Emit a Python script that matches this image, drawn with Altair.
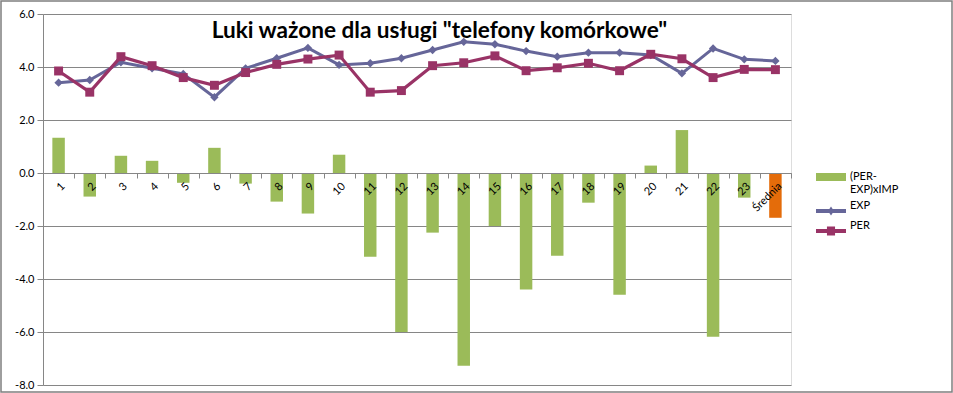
import altair as alt
import pandas as pd

# ---- data ----
categories = [str(i) for i in range(1, 24)] + ["Średnia"]
gap = [1.33, -0.89, 0.65, 0.46, -0.37, 0.95, -0.40, -1.08, -1.53, 0.69, -3.16, -6.00,
       -2.25, -7.27, -2.00, -4.40, -3.12, -1.12, -4.59, 0.28, 1.62, -6.18, -0.93, -1.69]
exp = [3.41, 3.51, 4.18, 3.95, 3.74, 2.86, 3.95, 4.33, 4.72, 4.08, 4.14, 4.33,
       4.64, 4.95, 4.86, 4.60, 4.39, 4.54, 4.54, 4.45, 3.76, 4.70, 4.29, 4.23]
per = [3.85, 3.05, 4.39, 4.05, 3.60, 3.31, 3.79, 4.10, 4.30, 4.45, 3.05, 3.11,
       4.05, 4.16, 4.42, 3.86, 3.97, 4.14, 3.86, 4.48, 4.31, 3.60, 3.91, 3.90]
y_ticks = [-8, -6, -4, -2, 0, 2, 4, 6]
series_names = ["(PER-EXP)xIMP", "EXP", "PER"]
title_text = 'Luki ważone dla usługi "telefony komórkowe"'

# ---- styles ----
GREEN, BLUE, MAGENTA, ORANGE = "#9BBB59", "#666699", "#993366", "#E46C0A"
GRAY = "#868686"
FONT = "Lato"
W, H = 748, 371
YMIN, YMAX = -8, 6

df = pd.DataFrame({"cat": categories, "gap": gap, "exp": exp, "per": per})

x_enc = alt.X(
    "cat:N", sort=categories,
    scale=alt.Scale(paddingInner=0, paddingOuter=0),
    axis=alt.Axis(
        title=None, labelAngle=-45, grid=False, zindex=1, labelOverlap=False,
        offset=-H * (0 - YMIN) / (YMAX - YMIN),
        tickBand="extent", tickSize=5, tickColor=GRAY, domainColor=GRAY,
        labelFont=FONT, labelFontSize=11, labelColor="#000000", labelPadding=2,
    ),
)
y_scale = alt.Scale(domain=[YMIN, YMAX], nice=False, zero=False)
y_axis = alt.Axis(
    title=None, values=y_ticks, grid=True, gridColor=GRAY, gridWidth=1, zindex=0,
    domainColor=GRAY, tickColor=GRAY, tickSize=6,
    labelExpr="(datum.value < 0 ? '-' : '') + format(abs(datum.value), '.1f')",
    labelFont=FONT, labelFontSize=11, labelColor="#000000", labelPadding=3,
)

bars = alt.Chart(df).mark_bar(width=alt.RelativeBandSize(0.4)).encode(
    x=x_enc,
    y=alt.Y("gap:Q", scale=y_scale, axis=y_axis),
    color=alt.condition(alt.datum.cat == "Średnia", alt.value(ORANGE), alt.value(GREEN)),
)

exp_line = alt.Chart(df).mark_line(color=BLUE, strokeWidth=3).encode(
    x=x_enc, y=alt.Y("exp:Q", scale=y_scale))
exp_pts = alt.Chart(df).mark_point(shape="diamond", filled=True, size=70, color=BLUE, opacity=1).encode(
    x=x_enc, y=alt.Y("exp:Q", scale=y_scale))
per_line = alt.Chart(df).mark_line(color=MAGENTA, strokeWidth=3.2).encode(
    x=x_enc, y=alt.Y("per:Q", scale=y_scale))
per_pts = alt.Chart(df).mark_point(shape="square", filled=True, size=80, color=MAGENTA, opacity=1).encode(
    x=x_enc, y=alt.Y("per:Q", scale=y_scale))

# legend symbols: wide bar, line+diamond, line+square (unit coords)
legend_paths = [
    "M-1,-0.27H1V0.27H-1Z M0,1.23L0.01,1.23",
    "M-1,-0.13H1V0.13H-1Z M0,-0.3L0.2,0L0,0.3L-0.2,0Z",
    "M-1,-0.13H1V0.13H-1Z M-0.27,-0.3H0.27V0.3H-0.27Z",
]
leg = dict(
    orient="none", legendX=773, legendY=148, title=None,
    symbolSize=900, symbolStrokeWidth=0, symbolOffset=0,
    labelFont=FONT, labelFontSize=11, labelColor="#000000",
    labelBaseline={"expr": "datum.value == '(PER-EXP)xIMP' ? 'middle' : 'bottom'"},
    labelOffset=4, padding=0, rowPadding=-5,
    labelExpr="datum.value == '(PER-EXP)xIMP' ? ['(PER-', 'EXP)xIMP'] : datum.label",
)
legend_layer = alt.Chart(pd.DataFrame({"series": series_names})).mark_point(
    filled=True, size=900, opacity=1
).encode(
    color=alt.Color("series:N", scale=alt.Scale(domain=series_names, range=[GREEN, BLUE, MAGENTA]),
                    legend=alt.Legend(**leg)),
    shape=alt.Shape("series:N", scale=alt.Scale(domain=series_names, range=legend_paths),
                    legend=alt.Legend(**leg)),
).transform_filter("false")

title = alt.Chart(pd.DataFrame({"t": [title_text]})).mark_text(
    font=FONT, fontSize=22.6, fontWeight="bold", color="#000000",
    align="center", baseline="alphabetic",
).encode(text="t:N", x=alt.value(396.5), y=alt.value(23.5))

frame = alt.Chart(pd.DataFrame({"f": [0]})).mark_rect(
    filled=False, stroke="#7F7F7F", strokeWidth=1.5
).encode(
    x=alt.value(-42), x2=alt.value(W + 161), y=alt.value(-13), y2=alt.value(H + 7)
)

chart = alt.layer(
    bars, exp_line, exp_pts, per_line, per_pts, title, legend_layer, frame
).properties(
    width=W, height=H,
    autosize=alt.AutoSizeParams(type="none"),
    padding={"left": 43, "top": 14, "right": 162, "bottom": 8},
).configure_view(strokeWidth=0).configure(background="white")

chart.save("out.html", embed_options={"renderer": "svg", "actions": False})
